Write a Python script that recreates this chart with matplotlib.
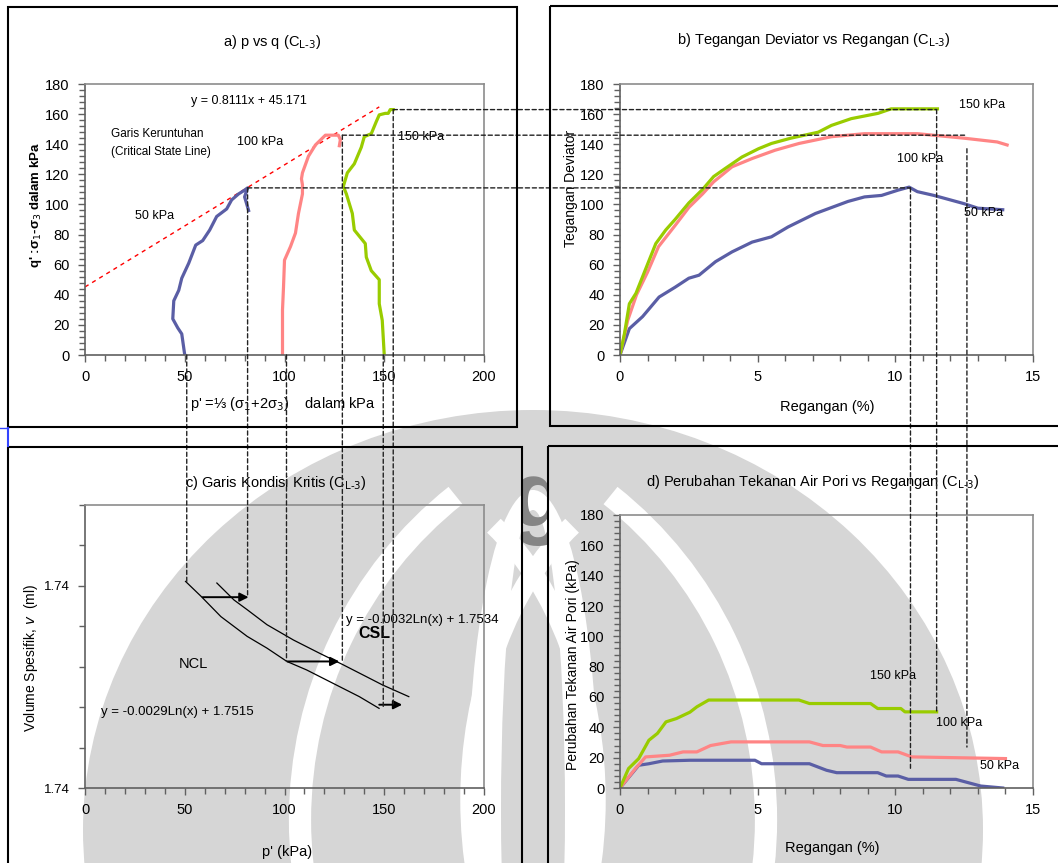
import matplotlib
matplotlib.use("Agg")
import matplotlib.pyplot as plt
from matplotlib.patches import Rectangle, Ellipse, Arc
from matplotlib.patches import ConnectionPatch
from matplotlib.ticker import MultipleLocator, FixedLocator, FixedFormatter
import matplotlib.transforms as mtransforms

plt.rcParams['font.family'] = ['Liberation Sans', 'DejaVu Sans']

# ---------------- data ----------------
# a) p' vs q
a_p50 = [50, 48.5, 46.5, 44, 44.5, 47, 48.5, 52, 55.5, 59, 62.5, 66, 71, 73.5, 77, 80, 81.5, 80, 82]
a_q50 = [0, 14, 18, 24, 36, 43, 51, 61, 73, 76, 83, 92, 97, 103, 107, 109.5, 111, 105, 96]
a_p100 = [99, 99, 99.5, 100, 103, 105.5, 107, 109, 109, 108.5, 109, 112, 115.5, 120.5, 127, 128, 127.5]
a_q100 = [0, 30, 45, 63, 72, 81, 94, 107, 113, 117, 121, 132, 139.5, 146, 146, 143, 139]
a_p150 = [150, 149, 147.5, 147.5, 143.5, 141, 140.5, 135, 134, 131, 129.5, 131.5, 135, 138.5, 140,
          143.5, 146, 147.5, 150.5, 152, 153, 154.5]
a_q150 = [0, 23, 34, 50, 56, 65, 74, 83, 94, 107, 112, 121, 127, 138, 145, 147, 155, 159.5, 160.5,
          160.5, 163, 163]
csl_p = [0, 147.5]
csl_q = [45.2, 164.8]

# b) deviator stress vs strain
b_e150 = [0, 0.16, 0.34, 0.58, 0.82, 1.3, 1.66, 2.0, 2.5, 3.0, 3.4, 3.83, 4.43, 5.03, 5.5, 6.2, 7.2,
          7.68, 8.4, 9.37, 9.85, 11.53]
b_q150 = [0, 14, 34, 41, 52, 74, 83, 90, 101, 110, 118.5, 124, 131.5, 137, 140.5, 144, 148, 152.5,
          157, 160.5, 163.5, 163.5]
b_e100 = [0, 0.28, 0.6, 1.0, 1.4, 2.0, 2.5, 3.0, 3.4, 4.07, 4.8, 5.63, 6.5, 7.68, 8.88, 10.8, 12.5,
          13.7, 14.06]
b_q100 = [0, 23, 40, 55, 72, 86, 98, 107, 115, 125, 130.5, 136, 140.5, 145, 147, 147, 144, 141.5, 139.5]
b_e50 = [0, 0.34, 0.82, 1.42, 2.0, 2.5, 2.87, 3.47, 4.07, 4.8, 5.5, 6.1, 7.1, 8.28, 8.88, 9.5, 10.1,
         10.5, 10.8, 11.4, 12.0, 12.5, 13.0, 13.9]
b_q50 = [0, 17.5, 25.5, 38.5, 45, 51, 53, 62, 68.5, 75, 78.5, 85, 94, 102, 105, 106, 109.5, 111.5,
         108.5, 106, 103, 100.5, 97.5, 96.5]

# c) critical state line
c_p_ncl = [50.4, 58.2, 68.1, 81.3, 91.2, 101.2, 111.1, 124.3, 137.5, 147.4]
c_v_ncl = [1.74011, 1.73974, 1.73924, 1.73875, 1.73846, 1.73813, 1.73792, 1.73759, 1.73726, 1.73697]
c_p_csl = [66.1, 74.7, 81.3, 91.2, 104.5, 117.7, 129.3, 140.8, 149.1, 162.3]
c_v_csl = [1.74007, 1.73965, 1.73941, 1.73904, 1.73866, 1.73833, 1.73805, 1.73776, 1.73755, 1.73726]
c_arrow_p0 = [59, 101.5, 147.5]
c_arrow_p1 = [82, 127.5, 159]
c_arrow_v = [1.73972, 1.73813, 1.73706]

# d) pore pressure change vs strain
d_e150 = [0, 0.31, 0.68, 1.05, 1.36, 1.67, 2.05, 2.54, 2.79, 3.22, 6.5, 6.88, 9.1, 9.36, 10.2, 10.35, 11.5]
d_u150 = [0, 12.8, 19.4, 31.5, 36, 43.6, 45.8, 50, 53.5, 58, 58, 55.7, 55.7, 52.4, 52.4, 50.2, 50.2]
d_e100 = [0, 0.56, 0.93, 1.8, 2.29, 2.79, 3.29, 4.03, 6.88, 7.37, 8.0, 8.24, 9.1, 9.5, 10.1, 10.6, 14.0]
d_u100 = [0, 12.8, 20.5, 21.6, 23.8, 23.8, 28, 30.4, 30.4, 28, 28, 27, 27, 23.8, 23.8, 20.5, 19.4]
d_e50 = [0, 0.68, 1.05, 1.55, 2.54, 4.9, 5.14, 6.88, 7.5, 7.87, 9.36, 9.67, 10.1, 10.47, 12.2, 13.1, 13.9]
d_u50 = [0, 15, 16, 17.8, 18.3, 18.3, 16, 16, 11.7, 10.1, 10.1, 7.9, 7.9, 5.7, 5.7, 1.3, 0]

# peak / failure points used for projection lines
peak_p = [81.5, 129, 154.5]        # p' at failure (50, 100, 150 kPa)
peak_q = [111, 146, 163]           # q at failure
peak_e = [10.55, 12.6, 11.5]       # strain at failure
start_p = [51, 101, 149.5]         # initial p'
d_end_u = [13, 27, 50]
c_end_v_start = [1.74011, 1.73813, 1.73697]
b_start_q = [111, 137, 163]

BLUE = '#5A5EA5'
RED = '#FF8585'
GREEN = '#99CC00'

# ---------------- figure ----------------
W, H = 1058, 863
fig = plt.figure(figsize=(W / 100, H / 100), dpi=100)
fig.patch.set_facecolor('white')
PX = mtransforms.Affine2D().scale(1 / W, -1 / H).translate(0, 1) + fig.transFigure


def rect(l, t, r, b):
    return [l / W, 1 - b / H, (r - l) / W, (b - t) / H]


def ftext(x, y, s, **kw):
    kw.setdefault('ha', 'center')
    kw.setdefault('va', 'center')
    return fig.text(x / W, 1 - y / H, s, **kw)


# ---- watermark (light grey logo-like shapes) ----
WM = '#d6d6d6'
fig.add_artist(Ellipse((533, 830), 900, 840, transform=PX, fc=WM, ec='none', zorder=-7))
fig.add_artist(Ellipse((533, 800), 130, 620, transform=PX, fc='white', ec='none', zorder=-6.9))
fig.add_artist(Ellipse((533, 810), 64, 600, transform=PX, fc=WM, ec='none', zorder=-6.8))
for cx, t1, t2 in [(700, 115, 245), (366, -65, 65)]:
    fig.add_artist(Arc((cx, 800), 460, 660, theta1=t1, theta2=t2, transform=PX, color='white',
                       lw=14, zorder=-6.7))
    fig.add_artist(Arc((cx, 820), 800, 820, theta1=t1 + 12, theta2=t2 - 12, transform=PX, color='white',
                       lw=16, zorder=-6.7))
g = ftext(538, 527, 'g', fontsize=66, color='#858585', zorder=-6, fontweight='bold', va='baseline')
g.set_clip_path(Rectangle((523, 440), 25, 120, transform=PX))

# frames of the four chart areas
for (l, t, r, b) in [(8, 7, 517, 427), (550, 6, 1070, 426), (8, 447, 522, 880), (548, 446, 1070, 880)]:
    fig.add_artist(Rectangle((l, t), r - l, b - t, transform=PX, fill=False, ec='black', lw=1.5, zorder=5))
fig.add_artist(plt.Line2D([8, 8], [428, 446], transform=PX, color='#3344ff', lw=1.5, zorder=6))
fig.add_artist(plt.Line2D([0, 8], [428, 428], transform=PX, color='#3344ff', lw=1, zorder=6))

ax_a = fig.add_axes(rect(85, 84, 484, 355))
ax_b = fig.add_axes(rect(620, 84, 1033, 355))
ax_c = fig.add_axes(rect(85, 505, 484, 788))
ax_d = fig.add_axes(rect(620, 515, 1033, 788))


def style(ax):
    ax.set_facecolor('none')
    for s in ['top', 'right']:
        ax.spines[s].set_color('#8c8c8c')
        ax.spines[s].set_linewidth(1.2)
    for s in ['left', 'bottom']:
        ax.spines[s].set_color('#606060')
        ax.spines[s].set_linewidth(1.2)
    ax.tick_params(which='both', direction='out', color='#606060', labelsize=10.5, top=False, right=False)
    ax.tick_params(which='major', length=5, width=1, pad=6)
    ax.tick_params(which='minor', length=4, width=1)


for ax in (ax_a, ax_b, ax_c, ax_d):
    style(ax)

# ---- a ----
ax_a.set_xlim(0, 200)
ax_a.set_ylim(0, 180)
ax_a.xaxis.set_major_locator(MultipleLocator(50))
ax_a.xaxis.set_minor_locator(MultipleLocator(10))
ax_a.yaxis.set_major_locator(MultipleLocator(20))
ax_a.yaxis.set_minor_locator(MultipleLocator(4))
ax_a.plot(csl_p, csl_q, color='red', lw=1, ls=(0, (3, 3)))
ax_a.plot(a_p50, a_q50, color=BLUE, lw=2.3)
ax_a.plot(a_p100, a_q100, color=RED, lw=2.3)
ax_a.plot(a_p150, a_q150, color=GREEN, lw=2.3)
ax_a.text(82, 169, 'y = 0.8111x + 45.171', fontsize=9, ha='center', va='center')
ax_a.text(13, 147, 'Garis Keruntuhan', fontsize=8.5, ha='left', va='center')
ax_a.text(13, 135, '(Critical State Line)', fontsize=8.5, ha='left', va='center')
ax_a.text(88, 141.5, '100 kPa', fontsize=9, ha='center', va='center')
ax_a.text(157, 145, '150 kPa', fontsize=9, ha='left', va='center')
ax_a.text(35, 92, '50 kPa', fontsize=9, ha='center', va='center')
ftext(272, 42, 'a) p vs q (C$_{\\mathrm{L\\text{-}3}}$)', fontsize=10.5)
ftext(283, 404, "p' =⅓ (σ$_1$+2σ$_3$)    dalam kPa", fontsize=10.5)
ftext(36, 205, "q' :σ$_1$-σ$_3$ dalam kPa", fontsize=9.5, rotation=90, fontweight='bold')

# ---- b ----
ax_b.set_xlim(0, 15)
ax_b.set_ylim(0, 180)
ax_b.xaxis.set_major_locator(MultipleLocator(5))
ax_b.xaxis.set_minor_locator(MultipleLocator(1))
ax_b.yaxis.set_major_locator(MultipleLocator(20))
ax_b.yaxis.set_minor_locator(MultipleLocator(4))
ax_b.plot(b_e50, b_q50, color=BLUE, lw=2.3)
ax_b.plot(b_e100, b_q100, color=RED, lw=2.3)
ax_b.plot(b_e150, b_q150, color=GREEN, lw=2.3)
ax_b.text(12.3, 166, '150 kPa', fontsize=9, ha='left', va='center')
ax_b.text(10.9, 130.5, '100 kPa', fontsize=9, ha='center', va='center')
ax_b.text(13.2, 94, '50 kPa', fontsize=9, ha='center', va='center')
ftext(814, 40, 'b) Tegangan Deviator vs Regangan (C$_{\\mathrm{L\\text{-}3}}$)', fontsize=10.5)
ftext(827, 407, 'Regangan (%)', fontsize=10.5)
ftext(571, 188, 'Tegangan Deviator', fontsize=10, rotation=90)

# ---- c ----
ax_c.set_xlim(0, 200)
ax_c.set_ylim(1.735, 1.742)
ax_c.xaxis.set_major_locator(MultipleLocator(50))
ax_c.xaxis.set_minor_locator(MultipleLocator(10))
ax_c.yaxis.set_major_locator(FixedLocator([1.735, 1.740]))
ax_c.yaxis.set_major_formatter(FixedFormatter(['1.74', '1.74']))
ax_c.yaxis.set_minor_locator(MultipleLocator(0.001))
ax_c.tick_params(axis='y', labelsize=9.5)
ax_c.plot(c_p_ncl, c_v_ncl, color='black', lw=0.9)
ax_c.plot(c_p_csl, c_v_csl, color='black', lw=0.9)
for p0, p1, v in zip(c_arrow_p0, c_arrow_p1, c_arrow_v):
    ax_c.annotate('', xy=(p1, v), xytext=(p0, v),
                  arrowprops=dict(arrowstyle='-|>', color='black', lw=1.4, mutation_scale=13,
                                  shrinkA=0, shrinkB=0))
ax_c.text(131, 1.73915, 'y = -0.0032Ln(x) + 1.7534', fontsize=9.5, ha='left', va='center')
ax_c.text(137, 1.73882, 'CSL', fontsize=11.5, fontweight='bold', ha='left', va='center')
ax_c.text(47, 1.73806, 'NCL', fontsize=10.5, ha='left', va='center')
ax_c.text(8, 1.73688, 'y = -0.0029Ln(x) + 1.7515', fontsize=9.5, ha='left', va='center')
ftext(276, 483, 'c) Garis Kondisi Kritis (C$_{\\mathrm{L\\text{-}3}}$)', fontsize=10.5)
ftext(287, 852, "p' (kPa)", fontsize=10.5)
ftext(31, 658, 'Volume Spesifik, $v$  (ml)', fontsize=10, rotation=90)

# ---- d ----
ax_d.set_xlim(0, 15)
ax_d.set_ylim(0, 180)
ax_d.xaxis.set_major_locator(MultipleLocator(5))
ax_d.xaxis.set_minor_locator(MultipleLocator(1))
ax_d.yaxis.set_major_locator(MultipleLocator(20))
ax_d.yaxis.set_minor_locator(MultipleLocator(4))
ax_d.plot(d_e50, d_u50, color=BLUE, lw=2.3)
ax_d.plot(d_e100, d_u100, color=RED, lw=2.3)
ax_d.plot(d_e150, d_u150, color=GREEN, lw=2.3)
ax_d.text(9.9, 74, '150 kPa', fontsize=9, ha='center', va='center')
ax_d.text(12.3, 43, '100 kPa', fontsize=9, ha='center', va='center')
ax_d.text(13.8, 14.3, '50 kPa', fontsize=9, ha='center', va='center')
ftext(813, 482, 'd) Perubahan Tekanan Air Pori vs Regangan (C$_{\\mathrm{L\\text{-}3}}$)', fontsize=10.5)
ftext(832, 848, 'Regangan (%)', fontsize=10.5)
ftext(573, 665, 'Perubahan Tekanan Air Pori (kPa)', fontsize=10, rotation=90)

# ---------------- projection (dashed) lines ----------------
DASH = dict(color='#222222', lw=1.0, ls=(0, (3, 2)), zorder=4)


def link(xyA, axA, xyB, axB):
    con = ConnectionPatch(xyA=xyA, coordsA=axA.transData, xyB=xyB, coordsB=axB.transData, **DASH)
    fig.add_artist(con)


# a -> b horizontal at failure q
for p, q, e in zip(peak_p, peak_q, peak_e):
    link((p, q), ax_a, (e, q), ax_b)
# a -> c vertical at initial p'
for p, v in zip(start_p, c_end_v_start):
    link((p, 0), ax_a, (p, v), ax_c)
# a -> c vertical at failure p'
for p, q, v in zip(peak_p, peak_q, c_arrow_v):
    link((p, q), ax_a, (p, v), ax_c)
# b -> d vertical at failure strain
for e, q, u in zip(peak_e, b_start_q, d_end_u):
    link((e, q), ax_b, (e, u), ax_d)

fig.savefig('out.png', dpi=100, facecolor='white')
